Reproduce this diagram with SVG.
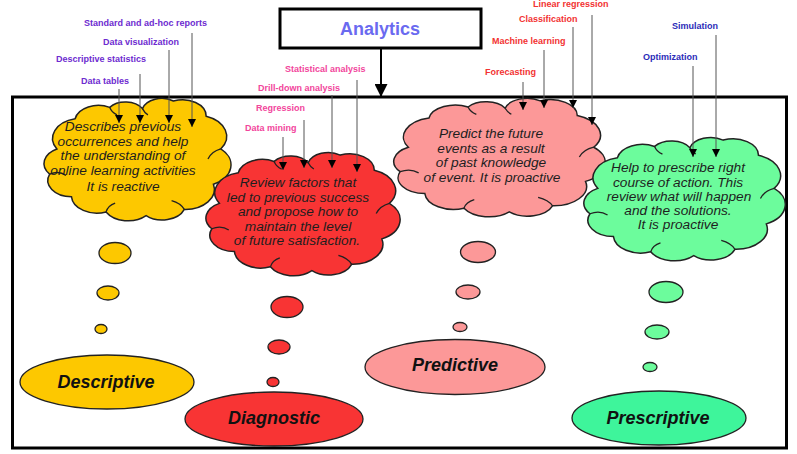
<svg xmlns="http://www.w3.org/2000/svg" xmlns:xlink="http://www.w3.org/1999/xlink" width="797" height="454" viewBox="0 0 797 454">
<style>
.lbl{font-family:"Liberation Sans",Arial,sans-serif;font-weight:bold;font-size:9px}
.desc{fill:#6d2bd0}
.diag{fill:#f2459c}
.pred{fill:#f23232}
.pres{fill:#2b2bb8}
.ctext{font-family:"Liberation Sans",Arial,sans-serif;font-style:italic;font-size:13.7px;fill:#1e1e1e;text-anchor:middle}
.etext{font-family:"Liberation Sans",Arial,sans-serif;font-style:italic;font-weight:bold;font-size:18px;fill:#111;text-anchor:middle}
.body{stroke:#222;stroke-width:1.5;vector-effect:non-scaling-stroke}
.inner{fill:none;stroke:#222;stroke-width:1.3;vector-effect:non-scaling-stroke}
.bub{stroke:#222;stroke-width:1.3}
.ell{stroke:#222;stroke-width:1.3}
.conn{stroke:#555;stroke-width:1;fill:none}
</style>
<defs>
<marker id="ah" viewBox="0 0 10 10" refX="10" refY="5" markerWidth="11" markerHeight="8" markerUnits="userSpaceOnUse" orient="auto"><path d="M0,0 L10,5 L0,10 z" fill="#000"/></marker>
<marker id="ahBig" viewBox="0 0 10 10" refX="10" refY="5" markerWidth="20" markerHeight="13" markerUnits="userSpaceOnUse" orient="auto"><path d="M0,0 L10,5 L0,10 z" fill="#000"/></marker>
<g id="cloud">
<path class="body" d="M6,42 A16,16 0 0,1 16,18 A13,13 0 0,1 35,9 A11,11 0 0,1 53,10 A11,11 0 0,1 70,4 A13,13 0 0,1 88,16 A17,17 0 0,1 96,42 A17,17 0 0,1 92,70 A16,16 0 0,1 76,90 A13,13 0 0,1 55,95 A14,14 0 0,1 33,92 A14,14 0 0,1 14,80 A13,13 0 0,1 2,62 A13,13 0 0,1 6,42 Z"/>
<path class="inner" d="M2,62 q5,-3 9,1 M96,42 q-5,2 -7,8 M76,90 q-2,-5 -7,-7 M33,92 q1,-5 5,-7 M35,9 q1,4 4,6 M53,10 q1,3 3,5"/>
</g>
</defs>
<rect x="0" y="0" width="797" height="454" fill="#fff"/>
<g id="frame"><rect x="12.5" y="97" width="774" height="351" fill="none" stroke="#000" stroke-width="3"/></g>
<g id="analytics">
<rect x="280" y="9" width="201" height="39" fill="#fff" stroke="#000" stroke-width="3"/>
<text x="380" y="35" font-family="Liberation Sans, Arial, sans-serif" font-weight="bold" font-size="18" fill="#6a6af0" text-anchor="middle">Analytics</text>
</g>
<g id="descriptive-cloud">
<use xlink:href="#cloud" href="#cloud" fill="#fdc800" transform="translate(46,96) scale(1.82,1.26)"/>
<text class="ctext" x="123" y="131">Describes previous</text>
<text class="ctext" x="123" y="146">occurrences and help</text>
<text class="ctext" x="123" y="160">the understanding of</text>
<text class="ctext" x="123" y="175">online learning activities</text>
<text class="ctext" x="123" y="191">It is reactive</text>
</g>
<g id="diagnostic-cloud">
<use xlink:href="#cloud" href="#cloud" fill="#f83434" transform="translate(208,150) scale(1.89,1.27)"/>
<text class="ctext" x="298" y="187">Review factors that</text>
<text class="ctext" x="298" y="202">led to previous success</text>
<text class="ctext" x="298" y="216">and propose how to</text>
<text class="ctext" x="298" y="231">maintain the level</text>
<text class="ctext" x="297" y="245">of future satisfaction.</text>
</g>
<g id="predictive-cloud">
<use xlink:href="#cloud" href="#cloud" fill="#fc9898" transform="translate(396,96) scale(2.06,1.22)"/>
<text class="ctext" x="491" y="138">Predict the future</text>
<text class="ctext" x="491" y="153">events as a result</text>
<text class="ctext" x="491" y="167">of past knowledge</text>
<text class="ctext" x="492" y="182">of event. It is proactive</text>
</g>
<g id="prescriptive-cloud">
<use xlink:href="#cloud" href="#cloud" fill="#6cfc9c" transform="translate(586,135) scale(1.96,1.27)"/>
<text class="ctext" x="678" y="172">Help to prescribe right</text>
<text class="ctext" x="678" y="187">course of action. This</text>
<text class="ctext" x="679" y="201">review what will happen</text>
<text class="ctext" x="678" y="215">and the solutions.</text>
<text class="ctext" x="678" y="229">It is proactive</text>
</g>
<g id="descriptive-bubbles">
<ellipse class="bub" cx="115" cy="253" rx="16" ry="10.5" fill="#fdc800"/>
<ellipse class="bub" cx="108" cy="293" rx="11" ry="7" fill="#fdc800"/>
<ellipse class="bub" cx="101" cy="329" rx="6" ry="4.5" fill="#fdc800"/>
</g>
<g id="diagnostic-bubbles">
<ellipse class="bub" cx="287" cy="307" rx="16" ry="10.5" fill="#f83434"/>
<ellipse class="bub" cx="279" cy="347" rx="11" ry="7" fill="#f83434"/>
<ellipse class="bub" cx="273" cy="382" rx="6" ry="4.5" fill="#f83434"/>
</g>
<g id="predictive-bubbles">
<ellipse class="bub" cx="478" cy="252" rx="17.5" ry="10.5" fill="#fc9898"/>
<ellipse class="bub" cx="468" cy="292" rx="12" ry="7" fill="#fc9898"/>
<ellipse class="bub" cx="460" cy="327" rx="7" ry="4.5" fill="#fc9898"/>
</g>
<g id="prescriptive-bubbles">
<ellipse class="bub" cx="666" cy="292" rx="17" ry="10.5" fill="#6cfc9c"/>
<ellipse class="bub" cx="657" cy="332" rx="12" ry="7" fill="#6cfc9c"/>
<ellipse class="bub" cx="650" cy="367" rx="7" ry="4.5" fill="#6cfc9c"/>
</g>
<g id="descriptive">
<ellipse class="ell" cx="107" cy="382" rx="87" ry="27" fill="#fdc800"/>
<text class="etext" x="106" y="388">Descriptive</text>
</g>
<g id="diagnostic">
<ellipse class="ell" cx="274" cy="419" rx="89" ry="27" fill="#f83434"/>
<text class="etext" x="274" y="424">Diagnostic</text>
</g>
<g id="predictive">
<ellipse class="ell" cx="455" cy="367" rx="90" ry="27.5" fill="#fc9898"/>
<text class="etext" x="455" y="371">Predictive</text>
</g>
<g id="prescriptive">
<ellipse class="ell" cx="659" cy="418" rx="87" ry="27" fill="#3ef59b"/>
<text class="etext" x="658" y="424">Prescriptive</text>
</g>
<g id="label-standard"><text class="lbl desc" x="84" y="26">Standard and ad-hoc reports</text></g>
<g id="label-dataviz"><text class="lbl desc" x="103" y="45">Data visualization</text></g>
<g id="label-descstats"><text class="lbl desc" x="56" y="62">Descriptive statistics</text></g>
<g id="label-datatables"><text class="lbl desc" x="81" y="84">Data tables</text></g>
<g id="label-statistical"><text class="lbl diag" x="285" y="72">Statistical analysis</text></g>
<g id="label-drilldown"><text class="lbl diag" x="258" y="91">Drill-down analysis</text></g>
<g id="label-regression"><text class="lbl diag" x="256" y="111">Regression</text></g>
<g id="label-datamining"><text class="lbl diag" x="245" y="131">Data mining</text></g>
<g id="label-linreg"><text class="lbl pred" x="533" y="7">Linear regression</text></g>
<g id="label-classification"><text class="lbl pred" x="519" y="22">Classification</text></g>
<g id="label-ml"><text class="lbl pred" x="492" y="44">Machine learning</text></g>
<g id="label-forecasting"><text class="lbl pred" x="485" y="75">Forecasting</text></g>
<g id="label-simulation"><text class="lbl pres" x="672" y="29">Simulation</text></g>
<g id="label-optimization"><text class="lbl pres" x="643" y="60">Optimization</text></g>
<g id="connectors">
<line x1="381" y1="48" x2="381" y2="97" stroke="#000" stroke-width="2" marker-end="url(#ahBig)"/>
<line class="conn" x1="119" y1="89" x2="119" y2="123" marker-end="url(#ah)"/>
<line class="conn" x1="140" y1="74" x2="140" y2="123" marker-end="url(#ah)"/>
<line class="conn" x1="169" y1="50" x2="169" y2="123" marker-end="url(#ah)"/>
<line class="conn" x1="192" y1="33" x2="192" y2="127" marker-end="url(#ah)"/>
<line class="conn" x1="283" y1="137" x2="283" y2="170" marker-end="url(#ah)"/>
<line class="conn" x1="304" y1="120" x2="304" y2="168" marker-end="url(#ah)"/>
<line class="conn" x1="332" y1="95" x2="332" y2="168" marker-end="url(#ah)"/>
<line class="conn" x1="357" y1="80" x2="357" y2="172" marker-end="url(#ah)"/>
<line class="conn" x1="523" y1="82" x2="523" y2="110" marker-end="url(#ah)"/>
<line class="conn" x1="544" y1="50" x2="544" y2="108" marker-end="url(#ah)"/>
<line class="conn" x1="573" y1="27" x2="573" y2="108" marker-end="url(#ah)"/>
<line class="conn" x1="592" y1="15" x2="592" y2="125" marker-end="url(#ah)"/>
<line class="conn" x1="693" y1="66" x2="693" y2="157" marker-end="url(#ah)"/>
<line class="conn" x1="716" y1="35" x2="716" y2="157" marker-end="url(#ah)"/>
</g>
</svg>
